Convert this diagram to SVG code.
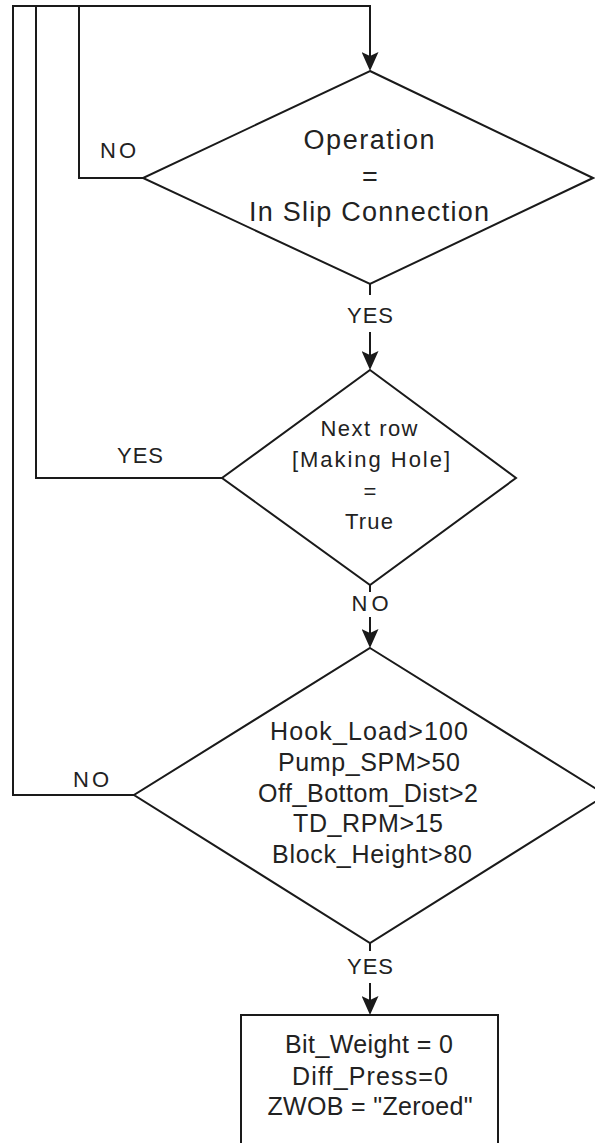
<svg xmlns="http://www.w3.org/2000/svg" width="595" height="1143" viewBox="0 0 595 1143">
  <defs>
    <marker id="arrow" markerUnits="userSpaceOnUse" viewBox="0 0 19 17" refX="17" refY="8.5" markerWidth="19" markerHeight="17" orient="auto">
      <path d="M0,0 L19,8.5 L0,17 L4,8.5 Z" fill="#1a1a1a"/>
    </marker>
  </defs>
  <style>
    .shape { fill: #ffffff; stroke: #1a1a1a; stroke-width: 2; }
    .conn { fill: none; stroke: #1a1a1a; stroke-width: 2; }
    text { font-family: "Liberation Sans", Arial, sans-serif; fill: #222222; text-anchor: middle; }
    .t27 { font-size: 27px; }
    .t25 { font-size: 25px; }
    .t22 { font-size: 22px; }
  </style>
  <rect x="0" y="0" width="595" height="1143" fill="#ffffff"/>

  <g id="connectors">
    <path class="conn" d="M143,178 H79 V6 H370 V69" marker-end="url(#arrow)"/>
    <path class="conn" d="M222,478 H36 V6 H79"/>
    <path class="conn" d="M134,795 H13 V6 H36"/>
    <path class="conn" d="M370,284 V295"/>
    <path class="conn" d="M370,332 V368" marker-end="url(#arrow)"/>
    <path class="conn" d="M370,585 V592"/>
    <path class="conn" d="M370,617 V646" marker-end="url(#arrow)"/>
    <path class="conn" d="M370,943 V951"/>
    <path class="conn" d="M370,983 V1013" marker-end="url(#arrow)"/>
    <text class="t22" x="118" y="158" textLength="36" lengthAdjust="spacing">NO</text>
    <text class="t22" x="370" y="323" textLength="46" lengthAdjust="spacing">YES</text>
    <text class="t22" x="140" y="463" textLength="46" lengthAdjust="spacing">YES</text>
    <text class="t22" x="370" y="611" textLength="37" lengthAdjust="spacing">NO</text>
    <text class="t22" x="91" y="787" textLength="36" lengthAdjust="spacing">NO</text>
    <text class="t22" x="370" y="974" textLength="46" lengthAdjust="spacing">YES</text>
  </g>

  <g id="decision-operation">
    <polygon class="shape" points="370,71 593,178 370,284 143,178"/>
    <text class="t27" x="369" y="149" textLength="131" lengthAdjust="spacing">Operation</text>
    <text class="t27" x="370" y="186">=</text>
    <text class="t27" x="369" y="221" textLength="240" lengthAdjust="spacing">In Slip Connection</text>
  </g>

  <g id="decision-making-hole">
    <polygon class="shape" points="370,370 516,478 370,585 222,478"/>
    <text class="t22" x="369" y="436" textLength="97" lengthAdjust="spacing">Next row</text>
    <text class="t22" x="371" y="467" textLength="158" lengthAdjust="spacing">[Making Hole]</text>
    <text class="t22" x="370" y="499">=</text>
    <text class="t22" x="369" y="529" textLength="48" lengthAdjust="spacing">True</text>
  </g>

  <g id="decision-conditions">
    <polygon class="shape" points="370,648 606,795 370,943 134,795"/>
    <text class="t25" x="369" y="740" textLength="198" lengthAdjust="spacing">Hook_Load&gt;100</text>
    <text class="t25" x="369" y="771" textLength="182" lengthAdjust="spacing">Pump_SPM&gt;50</text>
    <text class="t25" x="368" y="802" textLength="220" lengthAdjust="spacing">Off_Bottom_Dist&gt;2</text>
    <text class="t25" x="368" y="832" textLength="150" lengthAdjust="spacing">TD_RPM&gt;15</text>
    <text class="t25" x="372" y="863" textLength="200" lengthAdjust="spacing">Block_Height&gt;80</text>
  </g>

  <g id="process-zeroed">
    <rect class="shape" x="241" y="1015" width="257" height="140"/>
    <text class="t25" x="369" y="1053" textLength="168" lengthAdjust="spacing">Bit_Weight = 0</text>
    <text class="t25" x="370" y="1085" textLength="156" lengthAdjust="spacing">Diff_Press=0</text>
    <text class="t25" x="370" y="1115" textLength="205" lengthAdjust="spacing">ZWOB = "Zeroed"</text>
  </g>
</svg>
